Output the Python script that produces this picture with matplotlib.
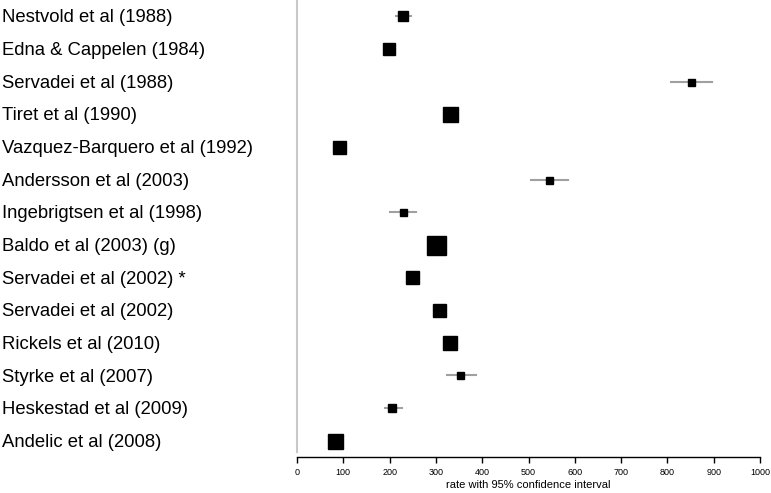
import matplotlib.pyplot as plt
import matplotlib.transforms as mtransforms

studies = ['Nestvold et al (1988)', 'Edna & Cappelen (1984)', 'Servadei et al (1988)',
           'Tiret et al (1990)', 'Vazquez-Barquero et al (1992)', 'Andersson et al (2003)',
           'Ingebrigtsen et al (1998)', 'Baldo et al (2003) (g)', 'Servadei et al (2002) *',
           'Servadei et al (2002)', 'Rickels et al (2010)', 'Styrke et al (2007)',
           'Heskestad et al (2009)', 'Andelic et al (2008)']
rate = [230, 199, 851, 330, 90, 545, 228, 300, 249, 306, 330, 353, 205, 83]
ci_low = [213, 190, 808, 318, 80, 506, 200, 285, 240, 296, 320, 324, 190, 73]
ci_high = [246, 208, 897, 342, 100, 586, 258, 315, 258, 316, 340, 387, 226, 93]
# square size in pixels (study weight)
box_px = [10, 12, 7, 15, 13, 7, 7, 19, 13, 13, 14, 7, 8, 15]

fig = plt.figure(figsize=(7.71, 4.93), dpi=100)
ax = fig.add_axes([297 / 771, (493 - 457) / 493, (760 - 297) / 771, 457 / 493])

for i in range(len(studies)):
    ax.plot([ci_low[i], ci_high[i]], [i, i], color='#a0a0a0', lw=1.5, zorder=1)
    ax.plot(rate[i], i, 's', color='black', markersize=box_px[i] * 0.72, zorder=2)

ax.set_xlim(0, 1000)
ax.set_ylim(13.5, -0.5)
ax.set_xticks(range(0, 1001, 100))
ax.set_yticks([])
ax.tick_params(axis='x', direction='out', length=4, width=1, labelsize=6.5, pad=4)
for lbl in ax.get_xticklabels():
    lbl.set_family('Liberation Sans')
ax.set_xlabel('rate with 95% confidence interval', fontsize=8, family='Liberation Sans', labelpad=2)

ax.spines['top'].set_visible(False)
ax.spines['right'].set_visible(False)
ax.spines['left'].set_color('#c8c8c8')
ax.spines['left'].set_linewidth(1.5)
ax.spines['left'].set_bounds(13.35, -0.5)
ax.spines['bottom'].set_linewidth(1)

trans = mtransforms.blended_transform_factory(fig.transFigure, ax.transData)
for i, s in enumerate(studies):
    ax.text(2 / 771, i + 0.05, s, transform=trans, ha='left', va='center',
            fontsize=13.3, family='Liberation Sans', clip_on=False)

fig.savefig('out.png', dpi=100)
